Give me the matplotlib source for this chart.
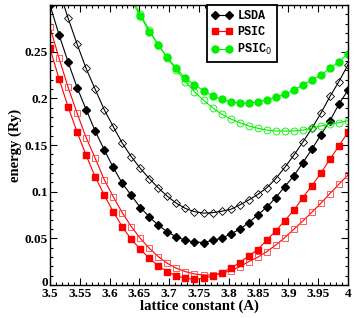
import numpy as np
import matplotlib
matplotlib.use("Agg")
import matplotlib.pyplot as plt
import matplotlib.transforms as mtransforms
from matplotlib.ticker import MultipleLocator

# lattice constants (34 points from 3.5 to 4.0)
lattice = [3.5, 3.5152, 3.5303, 3.5455, 3.5606, 3.5758, 3.5909, 3.6061, 3.6212,
           3.6364, 3.6515, 3.6667, 3.6818, 3.6970, 3.7121, 3.7273, 3.7424, 3.7576,
           3.7727, 3.7879, 3.8030, 3.8182, 3.8333, 3.8485, 3.8636, 3.8788, 3.8939,
           3.9091, 3.9242, 3.9394, 3.9545, 3.9697, 3.9848, 4.0]

lsda_closed = [0.300, 0.268, 0.239, 0.2115, 0.188, 0.165, 0.145, 0.126, 0.109,
               0.096, 0.083, 0.073, 0.064, 0.057, 0.0515, 0.048, 0.046, 0.0455,
               0.048, 0.050, 0.0547, 0.0595, 0.0668, 0.075, 0.0833, 0.0936, 0.1054,
               0.117, 0.131, 0.1455, 0.161, 0.176, 0.1937, 0.209]
lsda_open = [0.345, 0.316, 0.286, 0.258, 0.232, 0.2097, 0.188, 0.1697, 0.152,
             0.1375, 0.125, 0.114, 0.104, 0.095, 0.0876, 0.082, 0.0786, 0.077,
             0.0775, 0.079, 0.081, 0.0857, 0.091, 0.097, 0.104, 0.114, 0.126,
             0.139, 0.153, 0.168, 0.184, 0.202, 0.218, 0.236]
psic_closed = [0.2537, 0.2208, 0.191, 0.1637, 0.139, 0.116, 0.0965, 0.0786, 0.0625,
               0.049, 0.0383, 0.0286, 0.0204, 0.0143, 0.0098, 0.0072, 0.0061, 0.0072,
               0.0096, 0.0132, 0.0179, 0.024, 0.031, 0.038, 0.048, 0.058, 0.069,
               0.080, 0.0936, 0.1064, 0.120, 0.1347, 0.149, 0.164]
psic_open = [0.276, 0.243, 0.212, 0.184, 0.158, 0.136, 0.113, 0.0946, 0.0775,
             0.0625, 0.050, 0.0393, 0.0304, 0.0232, 0.0179, 0.0143, 0.0118, 0.0107,
             0.0107, 0.0125, 0.0153, 0.0196, 0.025, 0.0297, 0.0357, 0.0429, 0.0507,
             0.0597, 0.0686, 0.078, 0.0876, 0.098, 0.108, 0.118]
psic0_closed = [None, None, None, None, None, None, None, None, 0.325,
                0.305, 0.288, 0.2715, 0.257, 0.244, 0.232, 0.2215, 0.2144, 0.2083,
                0.2026, 0.199, 0.1965, 0.1947, 0.1947, 0.1965, 0.1983, 0.2012, 0.2044,
                0.209, 0.2144, 0.2197, 0.225, 0.232, 0.2393, 0.248]
psic0_open = [None, None, None, None, None, None, None, None, 0.330,
              0.309, 0.290, 0.273, 0.257, 0.243, 0.2304, 0.218, 0.207, 0.198,
              0.190, 0.183, 0.178, 0.174, 0.1704, 0.168, 0.166, 0.165, 0.165,
              0.165, 0.166, 0.168, 0.1704, 0.172, 0.174, 0.176]

labels = ["LSDA", "PSIC", "PSIC$_0$"]

def arr(v):
    return np.array([np.nan if a is None else a for a in v], dtype=float)

fig = plt.figure(figsize=(3.54, 3.18), dpi=100)
ax = fig.add_axes([50/354, 33/318, 298/354, 280/318])

serif = "Liberation Serif"
lw = 0.8
x = np.array(lattice)
RED = "#ff0000"
GREEN = "#00f000"

ax.plot(x, arr(lsda_open), color="black", lw=lw, marker="D", ms=3.8,
        mfc="none", mec="black", mew=0.6)
ax.plot(x, arr(lsda_closed), color="black", lw=lw, marker="D", ms=3.8,
        mfc="black", mec="black", label=labels[0])
ax.plot(x, arr(psic_open), color=RED, lw=lw, marker="s", ms=4.4,
        mfc="none", mec="#ff4040", mew=0.6)
ax.plot(x, arr(psic_closed), color=RED, lw=lw, marker="s", ms=4.2,
        mfc=RED, mec=RED, label=labels[1])
ax.plot(x, arr(psic0_open), color=GREEN, lw=lw, marker="o", ms=5.0,
        mfc="none", mec=GREEN, mew=0.6)
ax.plot(x, arr(psic0_closed), color=GREEN, lw=lw, marker="o", ms=5.0,
        mfc=GREEN, mec=GREEN, label=labels[2])

ax.set_xlim(3.5, 4.0)
ax.set_ylim(0, 0.3)
ax.xaxis.set_minor_locator(MultipleLocator(0.01))
ax.yaxis.set_minor_locator(MultipleLocator(0.01))
ax.set_xticks([3.5, 3.55, 3.6, 3.65, 3.7, 3.75, 3.8, 3.85, 3.9, 3.95, 4.0])
ax.set_xticklabels(["3.5", "3.55", "3.6", "3.65", "3.7", "3.75", "3.8", "3.85",
                    "3.9", "3.95", "4"])
ax.set_yticks([0, 0.05, 0.1, 0.15, 0.2, 0.25])
ax.set_yticklabels(["0", "0.05", "0.1", "0.15", "0.2", "0.25"])
ax.tick_params(which="both", direction="in", top=True, right=True, width=0.8)
ax.tick_params(which="major", length=5)
ax.tick_params(axis="x", which="major", pad=2.5)
ax.tick_params(axis="y", which="major", pad=1.5)
ax.tick_params(which="minor", length=2.5)
for t in ax.get_xticklabels() + ax.get_yticklabels():
    t.set_fontfamily(serif)
    t.set_fontweight("bold")
    t.set_fontsize(9.5)
for s in ax.spines.values():
    s.set_linewidth(1.0)

# nudge the "0" y tick label up slightly so it does not collide with "3.5"
zero_lbl = ax.get_yticklabels()[0]
zero_lbl.set_transform(zero_lbl.get_transform() +
                       mtransforms.ScaledTranslation(0, 3/100, fig.dpi_scale_trans))

ax.set_xlabel("lattice constant (A)", fontfamily=serif, fontweight="bold",
              fontsize=10.5, labelpad=-0.5)
ax.set_ylabel("energy (Ry)", fontfamily=serif, fontweight="bold",
              fontsize=10.5, labelpad=2)

leg = ax.legend(loc="upper left", bbox_to_anchor=(0.526, 1.0), borderaxespad=0,
                numpoints=2, handlelength=1.8, handletextpad=0.4, borderpad=0.4,
                labelspacing=0.35, fancybox=False, framealpha=1,
                prop={"family": "Liberation Mono", "weight": "bold", "size": 8.5})
leg.get_frame().set_edgecolor("black")
leg.get_frame().set_linewidth(1.3)

fig.savefig("out.png", dpi=100)
